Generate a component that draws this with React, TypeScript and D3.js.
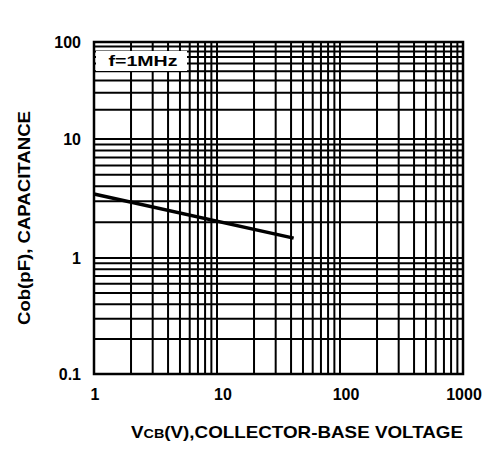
import React from "react";
import * as d3 from "d3";

const xTickValues = [1, 10, 100, 1000];
const xTickLabels = ["1", "10", "100", "1000"];
const yTickValues = [0.1, 1, 10, 100];
const yTickLabels = ["0.1", "1", "10", "100"];
const curveVcb = [1, 42];
const curveCob = [3.45, 1.47];
const noteText = "f=1MHz";
const xTitleMain = "V";
const xTitleSub = "CB";
const xTitleRest = "(V),COLLECTOR-BASE VOLTAGE";
const yTitle = "Cob(pF), CAPACITANCE";

const W = 502;
const H = 450;
const L = 94, R = 463, T = 42, B = 374;
const FONT = "'Liberation Sans', Arial, Helvetica, sans-serif";

export default function App() {
  const x = d3.scaleLog().domain([1, 1000]).range([L, R]);
  // the printed grid is not perfectly uniform: decades anchored at their labels
  const y = d3.scaleLog().domain([0.1, 1, 10, 100]).range([B, 258, 139, T]);

  const gridX: number[] = [];
  for (let e = 0; e < 3; e++) for (let m = 1; m <= 9; m++) gridX.push(m * Math.pow(10, e));
  const gridY: number[] = [];
  for (let e = -1; e < 2; e++) for (let m = 1; m <= 9; m++) gridY.push(m * Math.pow(10, e));

  const line = d3
    .line<number>()
    .x((d, i) => x(curveVcb[i]))
    .y((d) => y(d));

  return (
    <svg width={W} height={H} style={{ position: "absolute", left: 0, top: 0, background: "#fff" }}>
      <rect x={0} y={0} width={W} height={H} fill="#fff" />
      <g stroke="#000" strokeWidth={2}>
        {gridX.map((v, i) => (
          <line key={"gx" + i} x1={x(v)} x2={x(v)} y1={T} y2={B} />
        ))}
        {gridY.map((v, i) => (
          <line key={"gy" + i} x1={L} x2={R} y1={y(v)} y2={y(v)} />
        ))}
      </g>
      <rect x={L} y={T} width={R - L} height={B - T} fill="none" stroke="#000" strokeWidth={2.5} />
      <rect x={96} y={51} width={91} height={20} fill="#fff" />
      <text x={143} y={66} textAnchor="middle" fontFamily={FONT} fontWeight="bold" fontSize={15} textLength={69} lengthAdjust="spacingAndGlyphs">
        {noteText}
      </text>
      <path d={line(curveCob) || ""} fill="none" stroke="#000" strokeWidth={3.5} />
      <g fontFamily={FONT} fontWeight="bold" fontSize={16} fill="#000">
        {yTickValues.map((v, i) => (
          <text key={"yt" + i} x={81} y={y(v) + 6} textAnchor="end">
            {yTickLabels[i]}
          </text>
        ))}
        {xTickValues.map((v, i) => (
          <text key={"xt" + i} x={x(v) + (i === 0 ? 1 : i === 3 ? 1 : 6)} y={400} textAnchor="middle">
            {xTickLabels[i]}
          </text>
        ))}
      </g>
      <g fontFamily={FONT} fontWeight="bold" fontSize={17} fill="#000">
        <text x={297} y={438} textAnchor="middle" textLength={332} lengthAdjust="spacingAndGlyphs">
          <tspan>{xTitleMain}</tspan>
          <tspan fontSize={13}>{xTitleSub}</tspan>
          <tspan>{xTitleRest}</tspan>
        </text>
        <text transform={`translate(30,218) rotate(-90)`} textAnchor="middle" textLength={214} lengthAdjust="spacingAndGlyphs">
          {yTitle}
        </text>
      </g>
    </svg>
  );
}
